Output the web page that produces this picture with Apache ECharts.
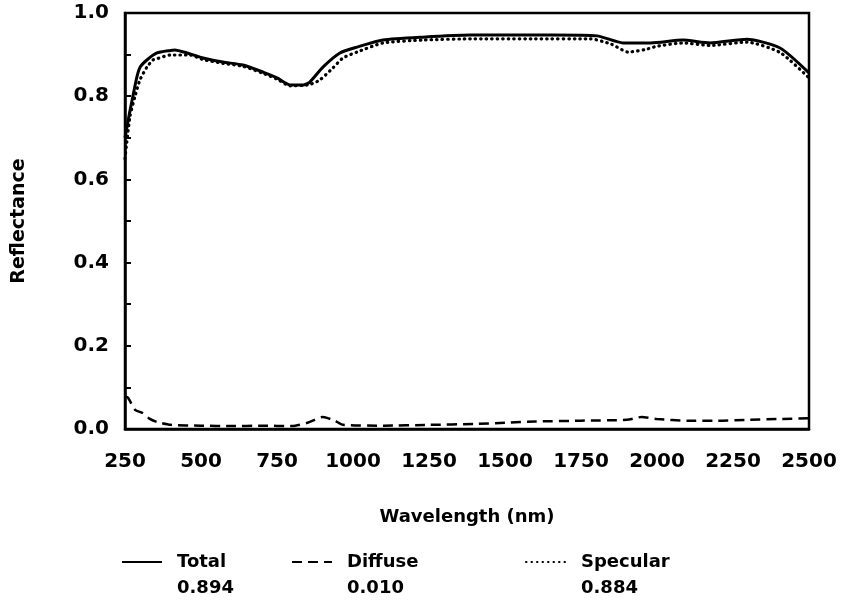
<!DOCTYPE html>
<html>
<head>
<meta charset="utf-8">
<script src="https://cdn.jsdelivr.net/npm/echarts@6/dist/echarts.min.js"></script>
<style>html,body{margin:0;padding:0;background:#fff;}#c{width:851px;height:603px;}</style>
</head>
<body>
<div id="c"></div>
<script>
var xTicks = [250, 500, 750, 1000, 1250, 1500, 1750, 2000, 2250, 2500];
var yTicks = [0.0, 0.2, 0.4, 0.6, 0.8, 1.0];

var totalX = [250, 265, 276, 289, 300, 322, 355, 400, 414, 454, 507, 572, 638, 704, 750, 793, 836, 858, 901, 957, 1013, 1099, 1230, 1385, 1500, 1650, 1803, 1888, 1980, 2085, 2174, 2296, 2405, 2500];
var totalY = [0.70, 0.76, 0.80, 0.846, 0.87, 0.887, 0.904, 0.910, 0.911, 0.904, 0.892, 0.882, 0.875, 0.858, 0.844, 0.827, 0.827, 0.834, 0.870, 0.904, 0.918, 0.935, 0.942, 0.947, 0.947, 0.947, 0.945, 0.928, 0.928, 0.935, 0.928, 0.937, 0.916, 0.856];

var diffuseX = [250, 260, 283, 309, 330, 355, 400, 500, 600, 700, 800, 850, 901, 940, 967, 1100, 1250, 1400, 1500, 1600, 1750, 1900, 1950, 2000, 2100, 2200, 2300, 2400, 2500];
var diffuseY = [0.078, 0.075, 0.046, 0.038, 0.025, 0.017, 0.010, 0.008, 0.007, 0.008, 0.007, 0.015, 0.029, 0.020, 0.010, 0.008, 0.010, 0.012, 0.015, 0.018, 0.020, 0.022, 0.029, 0.024, 0.020, 0.020, 0.022, 0.024, 0.026];

var specularX = [250, 266, 283, 299, 322, 342, 355, 398, 464, 507, 572, 638, 704, 750, 793, 836, 858, 891, 934, 967, 1013, 1099, 1230, 1400, 1600, 1780, 1850, 1905, 1960, 2000, 2085, 2174, 2296, 2405, 2500];
var specularY = [0.65, 0.75, 0.80, 0.839, 0.87, 0.887, 0.89, 0.899, 0.899, 0.888, 0.879, 0.872, 0.855, 0.841, 0.825, 0.826, 0.828, 0.839, 0.868, 0.892, 0.906, 0.928, 0.935, 0.938, 0.938, 0.938, 0.925, 0.906, 0.912, 0.920, 0.928, 0.922, 0.930, 0.905, 0.844];

var seriesNames = ['Total', 'Diffuse', 'Specular'];
var legendValues = ['0.894', '0.010', '0.884'];

function zip(xs, ys) { return xs.map(function (x, i) { return [x, ys[i]]; }); }

var FONT = 'DejaVu Sans';
var chart = echarts.init(document.getElementById('c'), null, {renderer: 'canvas'});

function legendFor(i, left) {
  return {
    data: [seriesNames[i]],
    left: left,
    top: 522,
    itemWidth: 40,
    itemHeight: 14,
    selectedMode: false,
    itemStyle: {opacity: 0},
    formatter: function (name) {
      return '{s| }\n{n|' + name + '}\n{v|' + legendValues[seriesNames.indexOf(name)] + '}';
    },
    textStyle: {
      color: '#000',
      rich: {
        s: {fontSize: 18, lineHeight: 26, fontFamily: FONT},
        n: {fontSize: 18, lineHeight: 26, fontWeight: 'bold', fontFamily: FONT, color: '#000', padding: [0, 0, 0, 10]},
        v: {fontSize: 18, lineHeight: 26, fontWeight: 'bold', fontFamily: FONT, color: '#000', padding: [0, 0, 0, 10]}
      }
    }
  };
}

var option = {
  backgroundColor: '#fff',
  animation: false,
  grid: {left: 125, right: 42, top: 13, bottom: 174, show: true, borderColor: '#000', borderWidth: 2.5, backgroundColor: 'transparent'},
  legend: [legendFor(0, 116), legendFor(1, 286), legendFor(2, 520)],
  xAxis: {
    type: 'value', min: 250, max: 2500, interval: 250,
    name: 'Wavelength (nm)', nameLocation: 'middle', nameGap: 79,
    nameTextStyle: {fontFamily: FONT, fontWeight: 'bold', fontSize: 18, color: '#000'},
    axisLine: {show: true, lineStyle: {color: '#000', width: 2.5}},
    axisTick: {show: false},
    splitLine: {show: false},
    axisLabel: {margin: 33, verticalAlign: 'middle', fontFamily: FONT, fontWeight: 'bold', fontSize: 20, color: '#000',
      formatter: function (v) { return xTicks.indexOf(v) >= 0 ? String(v) : ''; }}
  },
  yAxis: {
    type: 'value', min: 0, max: 1, interval: 0.2,
    name: 'Reflectance', nameLocation: 'middle', nameGap: 96, nameRotate: 90,
    nameTextStyle: {fontFamily: FONT, fontWeight: 'bold', fontSize: 19, color: '#000'},
    axisLine: {show: true, lineStyle: {color: '#000', width: 2.5}},
    axisTick: {show: true, inside: true, length: 6, lineStyle: {color: '#000', width: 2}},
    minorTick: {show: true, splitNumber: 2, length: 6, lineStyle: {color: '#000', width: 2}},
    splitLine: {show: false},
    axisLabel: {margin: 16, fontFamily: FONT, fontWeight: 'bold', fontSize: 20, color: '#000',
      formatter: function (v) { return v.toFixed(1); }}
  },
  series: [
    {name: 'Total', type: 'line', data: zip(totalX, totalY), symbol: 'none', smooth: 0.2,
      lineStyle: {color: '#000', width: 3, type: 'solid'}, itemStyle: {color: '#000'}},
    {name: 'Diffuse', type: 'line', data: zip(diffuseX, diffuseY), symbol: 'none', smooth: 0.2,
      lineStyle: {color: '#000', width: 2.5, type: [10, 6]}, itemStyle: {color: '#000'}},
    {name: 'Specular', type: 'line', data: zip(specularX, specularY), symbol: 'none', smooth: 0.2,
      lineStyle: {color: '#000', width: 3.2, type: [0.5, 5], cap: 'round'}, itemStyle: {color: '#000'}}
  ]
};
chart.setOption(option);
</script>
</body>
</html>
